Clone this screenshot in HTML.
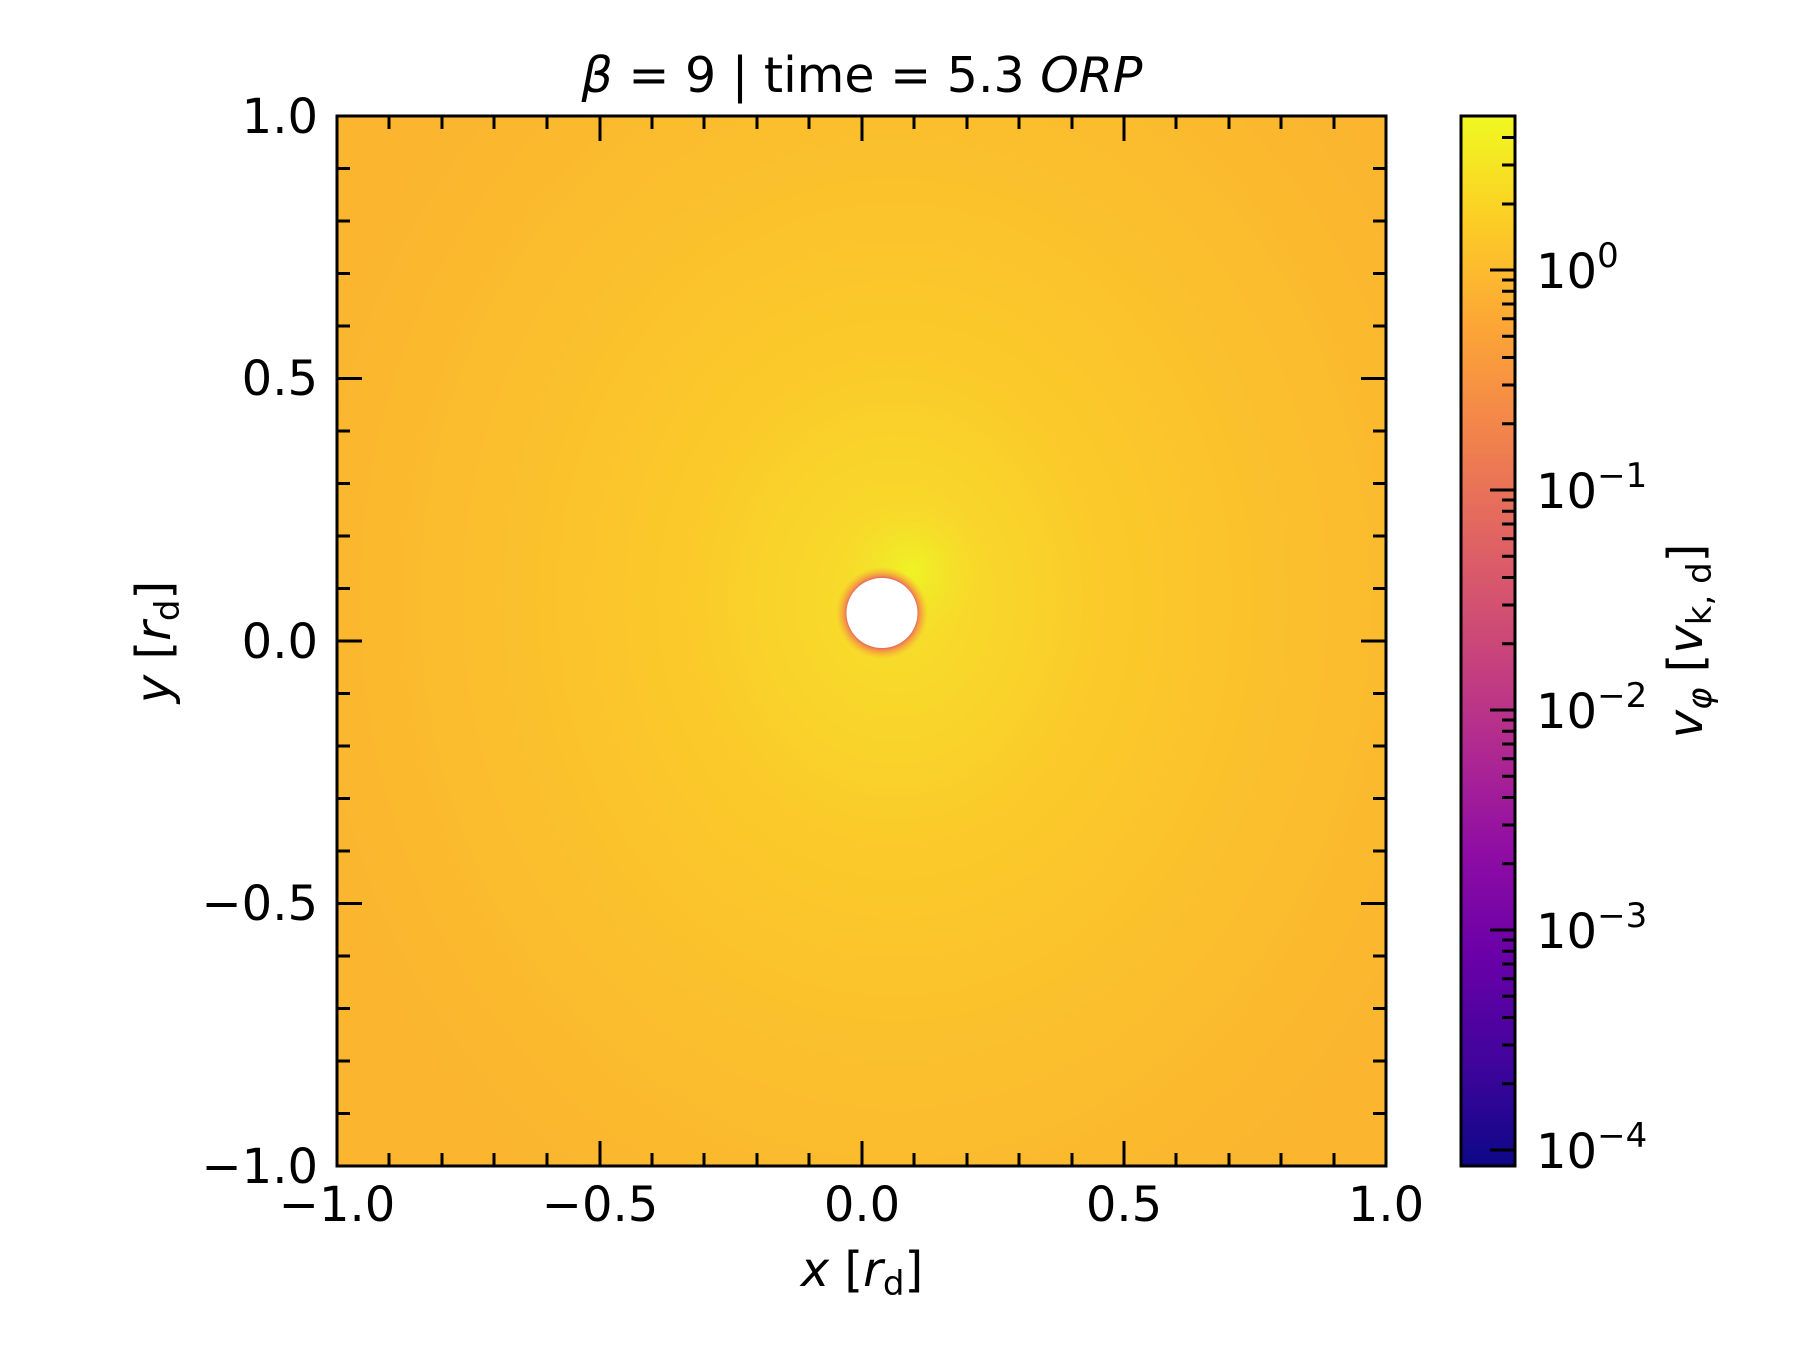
<!DOCTYPE html>
<html><head><meta charset="utf-8"><style>
html,body{margin:0;padding:0;background:#fff;}
svg{display:block;}
text{font-family:"DejaVu Sans","Liberation Sans",sans-serif;fill:#000;}
</style></head><body>
<svg width="1800" height="1350" viewBox="0 0 1800 1350" xmlns="http://www.w3.org/2000/svg">
<defs>
<linearGradient id="plasma" x1="0" y1="1166" x2="0" y2="115" gradientUnits="userSpaceOnUse">
<stop offset="0" stop-color="#0d0887"/>
<stop offset="0.1" stop-color="#41049d"/>
<stop offset="0.2" stop-color="#6a00a8"/>
<stop offset="0.3" stop-color="#8f0da4"/>
<stop offset="0.4" stop-color="#b12a90"/>
<stop offset="0.5" stop-color="#cc4778"/>
<stop offset="0.6" stop-color="#e16462"/>
<stop offset="0.7" stop-color="#f2844b"/>
<stop offset="0.8" stop-color="#fca636"/>
<stop offset="0.9" stop-color="#fcce25"/>
<stop offset="1" stop-color="#f0f921"/>
</linearGradient>
<radialGradient id="bg" cx="895" cy="600" r="720" gradientUnits="userSpaceOnUse" gradientTransform="translate(895 600) scale(0.85 1) translate(-895 -600)">
<stop offset="0" stop-color="#f4e22a"/>
<stop offset="0.12" stop-color="#f8d82a"/>
<stop offset="0.35" stop-color="#fbca2a"/>
<stop offset="0.65" stop-color="#fbbf2d"/>
<stop offset="1" stop-color="#fbb52f"/>
</radialGradient>
<radialGradient id="spot" cx="913" cy="570" r="70" gradientUnits="userSpaceOnUse">
<stop offset="0" stop-color="#eef524" stop-opacity="0.9"/>
<stop offset="1" stop-color="#f4e22a" stop-opacity="0"/>
</radialGradient>
<radialGradient id="rim" cx="882" cy="613" r="46" gradientUnits="userSpaceOnUse">
<stop offset="0.74" stop-color="#d9536c"/>
<stop offset="0.82" stop-color="#f2844b" stop-opacity="0.8"/>
<stop offset="1" stop-color="#fca636" stop-opacity="0"/>
</radialGradient>
</defs>
<rect x="337" y="116" width="1049" height="1050" fill="url(#bg)"/>
<rect x="337" y="116" width="1049" height="1050" fill="url(#spot)"/>
<circle cx="882" cy="613" r="46" fill="url(#rim)"/>
<ellipse cx="882" cy="613" rx="35.5" ry="35" fill="#fff"/>
<g stroke="#000" stroke-width="3">
<path d="M337 1166v-25M337 116v25M600 1166v-25M600 116v25M862 1166v-25M862 116v25M1124 1166v-25M1124 116v25M1386 1166v-25M1386 116v25"/>
<path d="M389 1166v-13M442 1166v-13M494 1166v-13M547 1166v-13M652 1166v-13M704 1166v-13M757 1166v-13M809 1166v-13M914 1166v-13M967 1166v-13M1019 1166v-13M1072 1166v-13M1176 1166v-13M1229 1166v-13M1281 1166v-13M1334 1166v-13
M389 116v13M442 116v13M494 116v13M547 116v13M652 116v13M704 116v13M757 116v13M809 116v13M914 116v13M967 116v13M1019 116v13M1072 116v13M1176 116v13M1229 116v13M1281 116v13M1334 116v13"/>
<path d="M337 116h25M1386 116h-25M337 378.5h25M1386 378.5h-25M337 641h25M1386 641h-25M337 903.5h25M1386 903.5h-25M337 1166h25M1386 1166h-25"/>
<path d="M337 168.5h13M337 221h13M337 273.5h13M337 326h13M337 431h13M337 483.5h13M337 536h13M337 588.5h13M337 693.5h13M337 746h13M337 798.5h13M337 851h13M337 956h13M337 1008.5h13M337 1061h13M337 1113.5h13
M1386 168.5h-13M1386 221h-13M1386 273.5h-13M1386 326h-13M1386 431h-13M1386 483.5h-13M1386 536h-13M1386 588.5h-13M1386 693.5h-13M1386 746h-13M1386 798.5h-13M1386 851h-13M1386 956h-13M1386 1008.5h-13M1386 1061h-13M1386 1113.5h-13"/>
</g>
<rect x="337" y="116" width="1049" height="1050" fill="none" stroke="#000" stroke-width="3"/>
<rect x="1461" y="116" width="54" height="1050" fill="url(#plasma)"/>
<g stroke="#000" stroke-width="3">
<path d="M1515 270h-25M1515 490h-25M1515 710h-25M1515 930h-25M1515 1150h-25"/>
<path d="M1515 204h-13M1515 165h-13M1515 137.5h-13"/>
<path id="minor" d="M1515 423.8h-13M1515 385h-13M1515 357.5h-13M1515 336.2h-13M1515 318.8h-13M1515 304h-13M1515 291.3h-13M1515 280h-13"/>
<use href="#minor" transform="translate(0 220)"/>
<use href="#minor" transform="translate(0 440)"/>
<use href="#minor" transform="translate(0 660)"/>
</g>
<rect x="1461" y="116" width="54" height="1050" fill="none" stroke="#000" stroke-width="3"/>
<g font-size="48" text-anchor="middle">
<text x="337" y="1221">−1.0</text>
<text x="600" y="1221">−0.5</text>
<text x="862" y="1221">0.0</text>
<text x="1124" y="1221">0.5</text>
<text x="1386" y="1221">1.0</text>
</g>
<g font-size="48" text-anchor="end">
<text x="318" y="133">1.0</text>
<text x="318" y="395">0.5</text>
<text x="318" y="658">0.0</text>
<text x="318" y="920">−0.5</text>
<text x="318" y="1183">−1.0</text>
</g>
<g font-size="48">
<text x="1536" y="288">10<tspan font-size="34" dy="-21">0</tspan></text>
<text x="1536" y="508">10<tspan font-size="34" dy="-21">−1</tspan></text>
<text x="1536" y="728">10<tspan font-size="34" dy="-21">−2</tspan></text>
<text x="1536" y="948">10<tspan font-size="34" dy="-21">−3</tspan></text>
<text x="1536" y="1168">10<tspan font-size="34" dy="-21">−4</tspan></text>
</g>
<text x="862" y="92" font-size="49" text-anchor="middle"><tspan font-style="italic">β</tspan> = 9 | time = 5.3 <tspan font-style="italic">ORP</tspan></text>
<text x="862" y="1286" font-size="48" text-anchor="middle"><tspan font-style="italic">x</tspan> [<tspan font-style="italic">r</tspan><tspan font-size="34" dy="9">d</tspan><tspan dy="-9">]</tspan></text>
<text transform="translate(170 642) rotate(-90)" font-size="48" text-anchor="middle"><tspan font-style="italic">y</tspan> [<tspan font-style="italic">r</tspan><tspan font-size="34" dy="9">d</tspan><tspan dy="-9">]</tspan></text>
<text transform="translate(1702 641) rotate(-90)" font-size="48" text-anchor="middle"><tspan font-style="italic">v</tspan><tspan font-size="34" font-style="italic" dy="9">φ</tspan><tspan dy="-9"> [</tspan><tspan font-style="italic">v</tspan><tspan font-size="34" dy="9">k, d</tspan><tspan dy="-9">]</tspan></text>
</svg>
</body></html>
